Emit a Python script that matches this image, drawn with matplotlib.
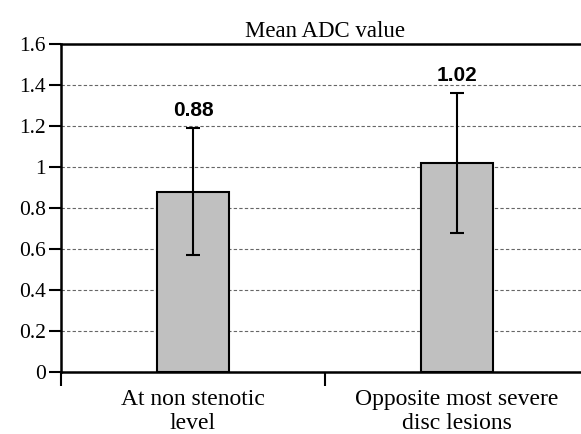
import matplotlib.pyplot as plt

# data
categories = ["At non stenotic\nlevel", "Opposite most severe\ndisc lesions"]
means = [0.88, 1.02]
errors = [0.31, 0.34]
value_labels = ["0.88", "1.02"]
yticks = [0, 0.2, 0.4, 0.6, 0.8, 1, 1.2, 1.4, 1.6]
ytick_labels = ["0", "0.2", "0.4", "0.6", "0.8", "1", "1.2", "1.4", "1.6"]

serif = "Liberation Serif"
sans = "Liberation Sans"

fig = plt.figure(figsize=(5.81, 4.34), dpi=100)
ax = fig.add_axes([61 / 581, 62 / 434, 528 / 581, 328 / 434])

x = list(range(len(categories)))
ax.bar(x, means, width=0.273, color="#c0c0c0", edgecolor="black", linewidth=1.5, zorder=3)
ax.errorbar(x, means, yerr=errors, fmt="none", ecolor="black", elinewidth=1.5,
            capsize=5, capthick=1.5, zorder=4)

for xi, m, e, lab in zip(x, means, errors, value_labels):
    ax.annotate(lab, (xi, m + e), xytext=(0, 6), textcoords="offset points",
                ha="center", va="bottom", fontsize=15, fontweight="bold", family=sans)

ax.set_xlim(-0.5, 1.5)
ax.set_ylim(0, 1.6)
ax.set_yticks(yticks)
ax.set_yticklabels(ytick_labels, family=serif, fontsize=15.5)

# category labels centred under bars, boundary ticks between them
ax.set_xticks([-0.5, 0.5, 1.5])
ax.set_xticklabels([])
ax.tick_params(axis="x", length=10, width=1.5, direction="out")
ax.tick_params(axis="y", length=9, width=1.5, direction="out", pad=2)
for xi, cat in zip(x, categories):
    ax.text(xi, -0.052, cat, ha="center", va="top", family=serif, fontsize=17,
            linespacing=1.2, transform=ax.get_xaxis_transform())

ax.yaxis.grid(True, linestyle=(0, (3, 2)), color="#666666", linewidth=0.8, zorder=0)
ax.set_axisbelow(True)
for side in ["left", "bottom", "top"]:
    ax.spines[side].set_linewidth(1.8)
ax.spines["right"].set_visible(False)

ax.set_title("Mean ADC value", family=serif, fontsize=16.5, pad=5)

fig.savefig("out.png", dpi=100)
